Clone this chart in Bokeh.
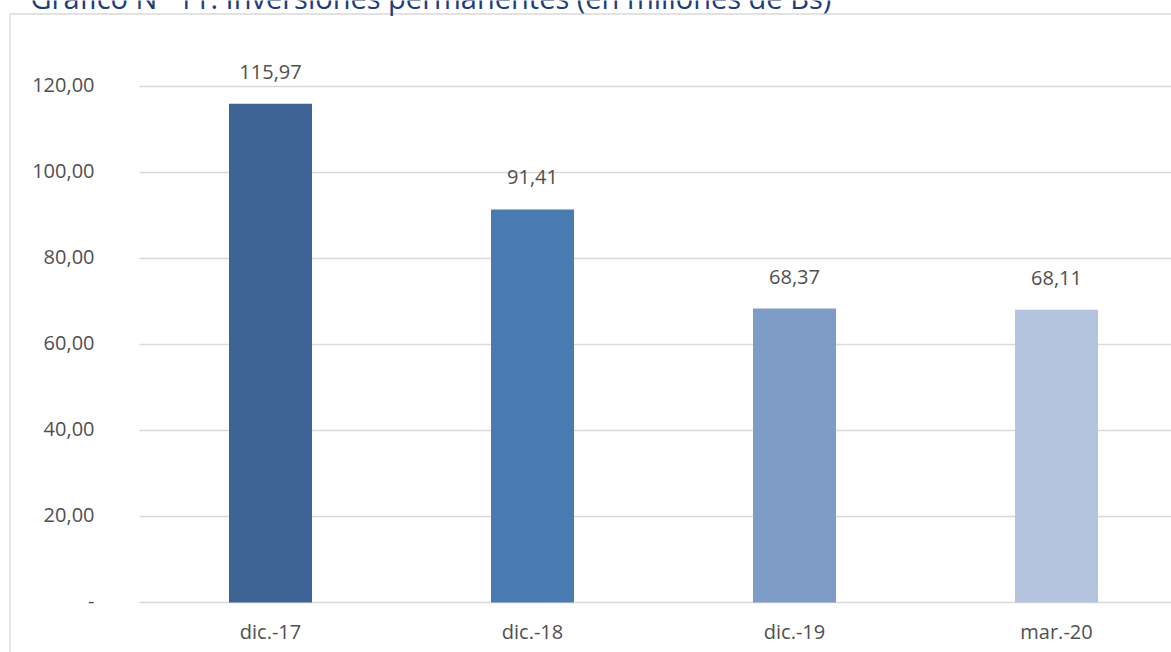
from bokeh.plotting import figure
from bokeh.models import Range1d
from bokeh.core.properties import value
from bokeh.embed import file_html
from bokeh.resources import INLINE

# ---- data ----
categories = ["dic.-17", "dic.-18", "dic.-19", "mar.-20"]
values = [115.97, 91.41, 68.37, 68.11]
value_labels = ["115,97", "91,41", "68,37", "68,11"]
bar_colors = ["#3D6494", "#4A7AB2", "#7F9CC7", "#B4C4DE"]
y_ticks = [0, 20, 40, 60, 80, 100, 120]
y_tick_labels = ["-", "20,00", "40,00", "60,00", "80,00", "100,00", "120,00"]
title_text = "Gráfico N° 11: Inversiones permanentes (en millones de Bs)"

# ---- layout ----
W, H = 1171, 652
PX_PER_CAT = 262.0
PX_PER_UNIT = 4.3
X0 = -270.0 / PX_PER_CAT        # first category centred at 270 px
Y0 = -(H - 602.0) / PX_PER_UNIT  # zero line at 602 px

def px_x(px):
    return X0 + px / PX_PER_CAT

def px_y(py):
    return (602.0 - py) / PX_PER_UNIT

FONT = value("Open Sans")
TXT = "#505050"
GRID = "#d9d9d9"

x_end = X0 + W / PX_PER_CAT

p = figure(width=W, height=H, output_backend="svg", toolbar_location=None,
           x_range=Range1d(X0, x_end),
           y_range=Range1d(Y0, Y0 + H / PX_PER_UNIT),
           min_border=0, min_border_left=0, min_border_right=0,
           min_border_top=0, min_border_bottom=0)
p.axis.visible = False
p.grid.visible = False
p.outline_line_color = None
p.background_fill_color = "white"
p.border_fill_color = "white"

xs = list(range(len(categories)))

# outer chart border (left and top; right/bottom lie beyond the view)
p.segment(x0=[px_x(9.5), px_x(9.5)], y0=[px_y(13.5), px_y(13.5)],
          x1=[px_x(9.5), x_end + 1], y1=[Y0 - 1, px_y(13.5)],
          line_color=GRID, line_width=1.3)

# gridlines
p.segment(x0=[-0.5] * len(y_ticks), y0=y_ticks, x1=[x_end + 1] * len(y_ticks), y1=y_ticks,
          line_color=GRID, line_width=1.3)

# bars
p.vbar(x=xs, top=values, bottom=0, width=83 / PX_PER_CAT, fill_color=bar_colors,
       line_color=None)

# y tick labels
p.text(x=[-0.5] * len(y_ticks), y=y_ticks, text=y_tick_labels, x_offset=-45, y_offset=-1.5,
       text_align="right", text_baseline="middle", text_font=FONT,
       text_font_size="20px", text_color=TXT)

# x category labels
p.text(x=xs, y=[0] * len(xs), text=categories, y_offset=28.5,
       text_align="center", text_baseline="middle", text_font=FONT,
       text_font_size="20px", text_color=TXT)

# data labels
p.text(x=xs, y=values, text=value_labels, y_offset=-32,
       text_align="center", text_baseline="middle", text_font=FONT,
       text_font_size="20px", text_color=TXT)

# title (cut at the top edge, as in the reference)
p.text(x=[px_x(30)], y=[px_y(-3)], text=[title_text],
       text_align="left", text_baseline="middle", text_font=FONT,
       text_font_size="29px", text_color="#203D7A")

open("out.html", "w").write(file_html(p, INLINE))
